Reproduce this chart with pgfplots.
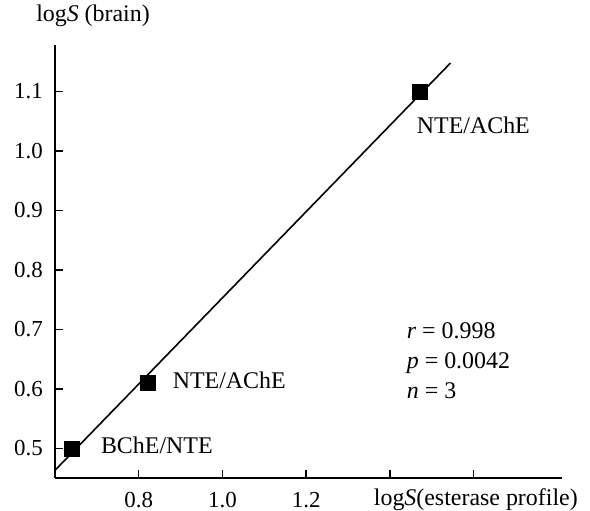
\documentclass[border=0pt]{standalone}
\usepackage{fontspec}
\setmainfont{Liberation Serif}
\usepackage{pgfplots}
\pgfplotsset{compat=1.18}
\begin{document}
\begin{tikzpicture}[font=\fontsize{24}{28}\selectfont]
\useasboundingbox (-55bp,-33bp) rectangle (535bp,478bp);
\begin{axis}[
  at={(0,0)}, anchor=south west,
  scale only axis, width=507bp, height=433bp,
  xmin=0.6, xmax=1.811, ymin=0.45, ymax=1.178,
  axis lines=left,
  axis line style={-, line width=2bp},
  every tick/.style={line width=1.5bp, black},
  tick align=inside, major tick length=8bp,
  xtick={0.8,1.0,1.2,1.4,1.6},
  xticklabels={0.8,1.0,1.2,{},{}},
  ytick={0.5,0.6,0.7,0.8,0.9,1.0,1.1},
  yticklabels={0.5,0.6,0.7,0.8,0.9,1.0,1.1},
  /pgf/number format/assume math mode=true,
  ticklabel style={font=\fontsize{23}{27}\selectfont},
  xticklabel style={anchor=base, inner sep=0pt, yshift=-29bp},
  yticklabel style={anchor=east, inner sep=0pt, xshift=-12bp},
  clip=false,
]
\addplot[black, line width=1.6bp] coordinates {(0.6,0.463) (1.5445,1.1476)};
\addplot[only marks, mark=square*, mark size=7.5bp, black] coordinates {
  (0.640,0.500) (0.821,0.610) (1.471,1.100)};
\node[inner sep=0, anchor=north] at (rel axis cs:0.075,1.094) {log\textit{S} (brain)};
\node[inner sep=0, anchor=base, yshift=-27bp] at (rel axis cs:0.830,0) {log\textit{S}(esterase profile)};
\node[anchor=base west, inner sep=0] at (axis cs:1.464,1.029) {NTE/AChE};
\node[anchor=base west, inner sep=0] at (axis cs:0.881,0.601) {NTE/AChE};
\node[anchor=base west, inner sep=0] at (axis cs:0.7095,0.492) {BChE/NTE};
\node[anchor=base west, inner sep=0] at (axis cs:1.440,0.685) {\textit{r} = 0.998};
\node[anchor=base west, inner sep=0] at (axis cs:1.440,0.634) {\textit{p} = 0.0042};
\node[anchor=base west, inner sep=0] at (axis cs:1.440,0.584) {\textit{n} = 3};
\end{axis}
\end{tikzpicture}
\end{document}
